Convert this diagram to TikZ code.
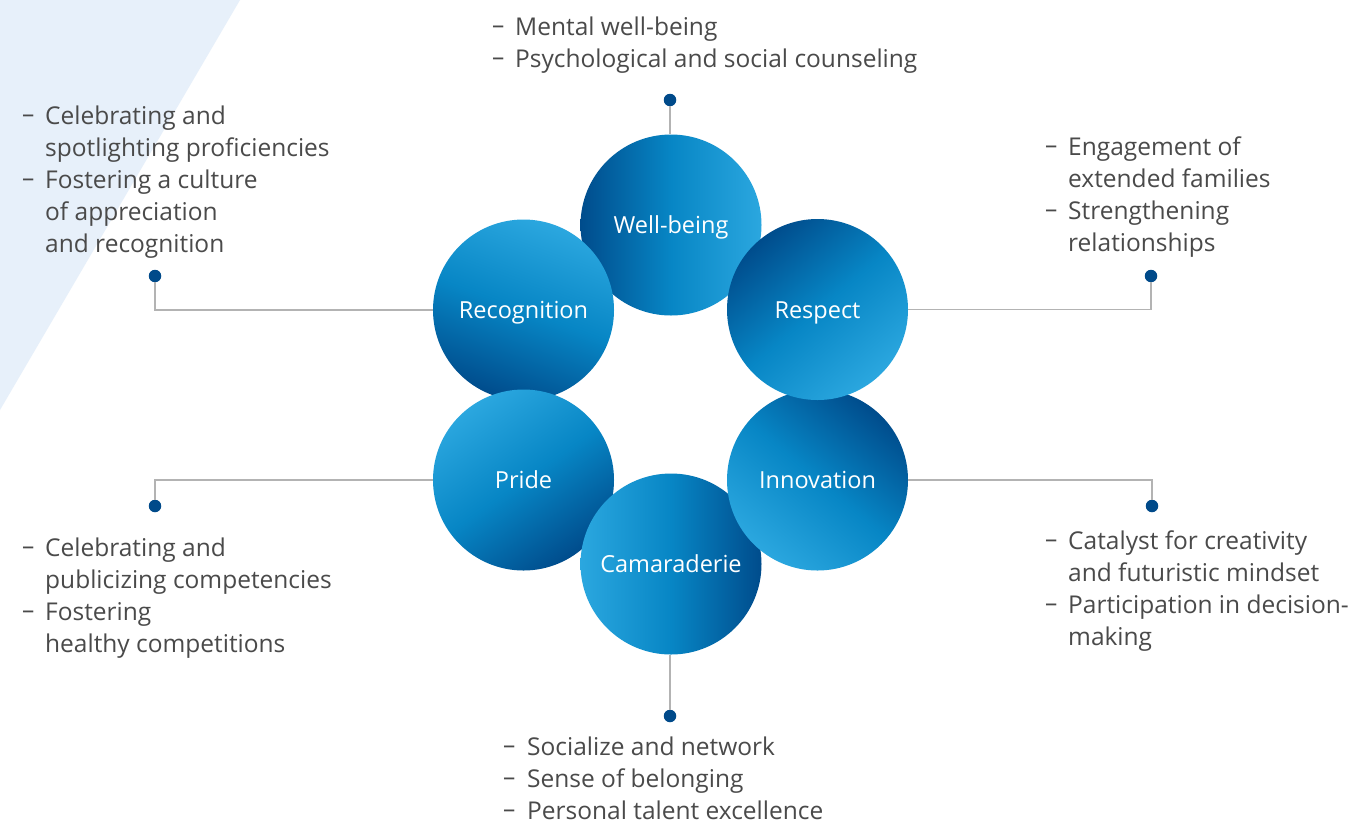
\documentclass[tikz,border=0pt]{standalone}
\usepackage{fontspec}
\setmainfont{Open Sans}
\definecolor{bgtri}{HTML}{E7F0FA}
\definecolor{ballD}{HTML}{004C8C}
\definecolor{ballM}{HTML}{0786C5}
\definecolor{ballL}{HTML}{2BA7DF}
\definecolor{dotc}{HTML}{004A8A}
\definecolor{linec}{HTML}{B3B3B3}
\definecolor{txtc}{HTML}{4A4A4A}
\newcommand{\dsh}{\makebox[23pt][l]{\raisebox{2pt}{–}}}
\begin{document}
\begin{tikzpicture}[x=1pt,y=1pt,
  ball/.style={circle, minimum size=181pt, inner sep=0pt, text=white,
    font=\fontsize{23.5}{28}\selectfont, text height=17pt, text depth=0pt,
    top color=ballL, bottom color=ballD, middle color=ballM},
  pin/.style={circle, fill=dotc, minimum size=12.5pt, inner sep=0pt},
  conn/.style={draw=linec, line width=1.2pt},
  desc/.style={anchor=base west, inner sep=0pt, text=txtc,
    font=\fontsize{24.5}{32}\selectfont}]
\useasboundingbox (0,0) rectangle (1351,-823);
\fill[white] (0,0) rectangle (1351,-823);
\fill[bgtri] (0,0) -- (240,0) -- (0,-410) -- cycle;

% circles (stacking order matters)
\node[ball, shading angle=-90] (wb) at (671,-225) {Well-being};
\node[ball, shading angle=-20] (rec) at (523.5,-310) {Recognition};
\node[ball, shading angle=35] (pri) at (523.5,-480) {Pride};
\node[ball, shading angle=90] (cam) at (671,-564) {Camaraderie};
\node[ball, shading angle=140] (inn) at (817.5,-480) {Innovation};
\node[ball, shading angle=-140] (res) at (817.5,-309.5) {Respect};

% pins
\node[pin] (dwb) at (670,-100) {};
\node[pin] (dcam) at (670,-716) {};
\node[pin] (drec) at (155,-276) {};
\node[pin] (dres) at (1151,-276) {};
\node[pin] (dpri) at (155,-506) {};
\node[pin] (dinn) at (1152,-506) {};

% connectors
\draw[conn] (dwb) -- (dwb |- wb.north);
\draw[conn] (dcam) -- (dcam |- cam.south);
\draw[conn] (drec) |- (rec.west);
\draw[conn] (dres) |- (res.east);
\draw[conn] (dpri) |- (pri.west);
\draw[conn] (dinn) |- (inn.east);

% descriptions
\node[desc] (twb) at (492,-35) {\begin{tabular}[t]{@{}l@{}l@{}}
\dsh & Mental well-being\\
\dsh & Psychological and social counseling
\end{tabular}};
\node[desc] (trec) at (22,-124) {\begin{tabular}[t]{@{}l@{}l@{}}
\dsh & Celebrating and\\
 & spotlighting proficiencies\\
\dsh & Fostering a culture\\
 & of appreciation\\
 & and recognition
\end{tabular}};
\node[desc] (tres) at (1045,-155) {\begin{tabular}[t]{@{}l@{}l@{}}
\dsh & Engagement of\\
 & extended families\\
\dsh & Strengthening\\
 & relationships
\end{tabular}};
\node[desc] (tpri) at (22,-556) {\begin{tabular}[t]{@{}l@{}l@{}}
\dsh & Celebrating and\\
 & publicizing competencies\\
\dsh & Fostering\\
 & healthy competitions
\end{tabular}};
\node[desc] (tinn) at (1045,-549) {\begin{tabular}[t]{@{}l@{}l@{}}
\dsh & Catalyst for creativity\\
 & and futuristic mindset\\
\dsh & Participation in decision-\\
 & making
\end{tabular}};
\node[desc] (tcam) at (503,-755) {\begin{tabular}[t]{@{}l@{}l@{}}
\makebox[24pt][l]{\raisebox{2pt}{–}} & Socialize and network\\
\makebox[24pt][l]{\raisebox{2pt}{–}} & Sense of belonging\\
\makebox[24pt][l]{\raisebox{2pt}{–}} & Personal talent excellence
\end{tabular}};
\end{tikzpicture}
\end{document}
